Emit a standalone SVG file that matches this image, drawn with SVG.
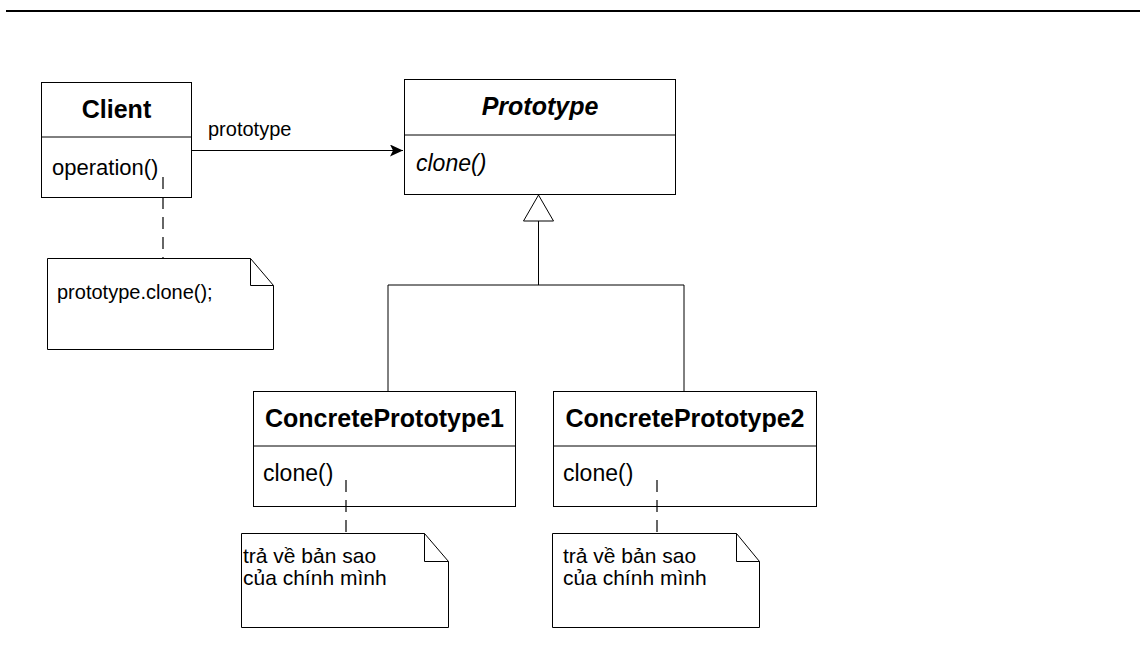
<svg xmlns="http://www.w3.org/2000/svg" width="1140" height="650" viewBox="0 0 1140 650">
<style>
.box{fill:#fff;stroke:#000;stroke-width:1}
.ln{fill:none;stroke:#000;stroke-width:1}
.dash{fill:none;stroke:#000;stroke-width:1.2;stroke-dasharray:12 8}
.title{font-family:"Liberation Sans",Arial,sans-serif;font-size:25px;font-weight:bold;text-anchor:middle;fill:#000}
.op{font-family:"Liberation Sans",Arial,sans-serif;font-size:23px;fill:#000}
.note{font-family:"Liberation Sans",Arial,sans-serif;font-size:20px;fill:#000}
.note2{font-family:"Liberation Sans",Arial,sans-serif;font-size:21px;fill:#000}
</style>
<defs>
<marker id="arr" markerWidth="14" markerHeight="14" refX="13" refY="6" orient="auto" markerUnits="userSpaceOnUse">
<path d="M13,6 L0,0 L3,6 L0,12 Z" fill="#000"/>
</marker>
</defs>
<rect width="1140" height="650" fill="#fff"/>
<line x1="6" y1="11" x2="1140" y2="11" stroke="#000" stroke-width="2"/>

<g id="client">
<rect class="box" x="41.5" y="82.5" width="150" height="115"/>
<line class="ln" x1="41.5" y1="137" x2="191.5" y2="137"/>
<text class="title" x="116.5" y="118">Client</text>
<text class="op" x="52" y="175" style="font-size:22px">operation()</text>
</g>

<g id="prototype">
<rect class="box" x="404.5" y="79.5" width="271" height="115"/>
<line class="ln" x1="404.5" y1="135" x2="675.5" y2="135"/>
<text class="title" x="540" y="115" font-style="italic">Prototype</text>
<text class="op" x="416" y="171" font-style="italic">clone()</text>
</g>

<g id="concrete1">
<rect class="box" x="253.5" y="391.5" width="262" height="115"/>
<line class="ln" x1="253.5" y1="446" x2="515.5" y2="446"/>
<text class="title" x="384.5" y="427">ConcretePrototype1</text>
<text class="op" x="263" y="481">clone()</text>
</g>

<g id="concrete2">
<rect class="box" x="553.5" y="391.5" width="263" height="115"/>
<line class="ln" x1="553.5" y1="446" x2="816.5" y2="446"/>
<text class="title" x="685" y="427">ConcretePrototype2</text>
<text class="op" x="563" y="481">clone()</text>
</g>

<g id="note-client">
<path class="box" d="M47.5,258.5 H250.5 L273.5,285.5 V349.5 H47.5 Z"/>
<path class="ln" d="M250.5,258.5 V285.5 H273.5"/>
<text class="note" x="57" y="299">prototype.clone();</text>
</g>

<g id="note-c1">
<path class="box" d="M241.5,533.5 H424.5 L448.5,561.5 V627.5 H241.5 Z"/>
<path class="ln" d="M424.5,533.5 V561.5 H448.5"/>
<text class="note2" x="243" y="563">trả về bản sao</text>
<text class="note2" x="243" y="585">của chính mình</text>
</g>

<g id="note-c2">
<path class="box" d="M552.5,533.5 H736.5 L759.5,561.5 V627.5 H552.5 Z"/>
<path class="ln" d="M736.5,533.5 V561.5 H759.5"/>
<text class="note2" x="563" y="563">trả về bản sao</text>
<text class="note2" x="563" y="585">của chính mình</text>
</g>

<g id="connectors">
<line class="ln" x1="191" y1="150.5" x2="403" y2="150.5" marker-end="url(#arr)"/>
<text class="note" x="208" y="136">prototype</text>
<polyline class="ln" points="538.5,221 538.5,285"/>
<polyline class="ln" points="388,392 388,285 684,285 684,392"/>
<polygon points="538.5,195 523.5,221 553.5,221" fill="#fff" stroke="#000" stroke-width="1"/>
<line class="dash" x1="163" y1="177" x2="163" y2="258"/>
<line class="dash" x1="346" y1="480" x2="346" y2="533"/>
<line class="dash" x1="657" y1="480" x2="657" y2="533"/>
</g>
</svg>
